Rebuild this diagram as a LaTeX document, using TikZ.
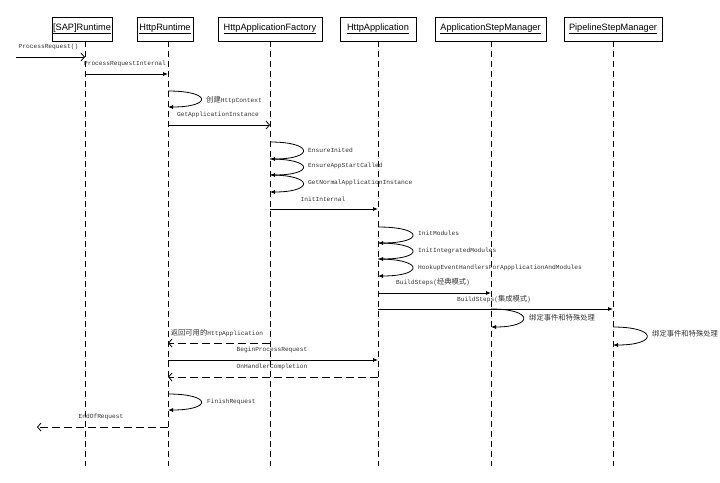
\documentclass[tikz,border=0pt]{standalone}
\usepackage{fontspec}
\setmainfont{Liberation Sans}
\newfontfamily\lblfont{Liberation Mono}
\newfontfamily\cjkfont{Noto Sans CJK SC}
\newcommand\zhtxt[1]{{\cjkfont\fontsize{7.3}{8}\selectfont #1}}
\usetikzlibrary{arrows.meta}
\begin{document}
\begin{tikzpicture}[x=1pt,y=-1pt,
 head/.style={draw, line width=0.9pt, minimum height=24pt, inner sep=0pt, font=\fontsize{9.2}{10}\selectfont},
 life/.style={dash pattern=on 6pt off 4pt, line width=0.9pt},
 msg/.style={line width=0.8pt, -{Latex[length=5pt,width=4pt]}},
 ret/.style={line width=0.8pt, dash pattern=on 8pt off 4pt, -{Straight Barb[length=3.5pt,width=8pt]}},
 async/.style={line width=0.8pt, -{Straight Barb[length=3.5pt,width=8pt]}},
 selfc/.style={line width=0.8pt, -{Latex[length=5pt,width=4pt]}},
 lbl/.style={font=\lblfont\fontsize{6.2}{7}\selectfont, text=black!80, inner sep=0pt}
]
\useasboundingbox (0,0) rectangle (720,482);

% heads
\node[head, minimum width=60pt]  (sap)  at (82,29)    {\underline{[SAP]Runtime}};
\node[head, minimum width=56pt]  (hr)   at (165,29)   {\underline{HttpRuntime}};
\node[head, minimum width=104pt] (haf)  at (270,29)   {\underline{HttpApplicationFactory}};
\node[head, minimum width=76pt]  (ha)   at (378,29)   {\underline{HttpApplication}};
\node[head, minimum width=111pt] (asm)  at (490.5,29) {\underline{ApplicationStepManager}};
\node[head, minimum width=98pt]  (psm)  at (613,29)   {\underline{PipelineStepManager}};

% lifeline ends
\coordinate (sapL) at (85,466);
\coordinate (hrL)  at (168,466);
\coordinate (hafL) at (270,466);
\coordinate (haL)  at (378,466);
\coordinate (asmL) at (491,466);
\coordinate (psmL) at (613,466);
\coordinate (inS)  at (16,57);
\coordinate (outE) at (37,427);

\draw[life] (sap.south -| sapL) -- (sapL);
\draw[life] (hr.south -| hrL) -- (hrL);
\draw[life] (haf.south -| hafL) -- (hafL);
\draw[life] (ha.south -| haL) -- (haL);
\draw[life] (asm.south -| asmL) -- (asmL);
\draw[life] (psm.south -| psmL) -- (psmL);

% messages
\draw[async] (inS) -- (sapL |- inS);
\node[lbl] (m1) at (48.5,47) {ProcessRequest()};

\draw[msg] (sapL |- 0,74) -- (hrL |- 0,74);
\node[lbl] (m2) at (125,64) {ProcessRequestInternal};

\draw[selfc] (hrL |- 0,91) .. controls +(44,0) and +(44,0) .. (hrL |- 0,107);
\node[lbl, anchor=west] (m3) at (206,100) {\zhtxt{创建}HttpContext};

\draw[async] (hrL |- 0,125) -- (hafL |- 0,125);
\node[lbl] (m4) at (218,115) {GetApplicationInstance};

\draw[selfc] (hafL |- 0,142) .. controls +(44,0) and +(44,0) .. (hafL |- 0,159);
\node[lbl, anchor=west] (m5) at (308,150) {EnsureInited};
\draw[selfc] (hafL |- 0,159) .. controls +(44,0) and +(44,0) .. (hafL |- 0,175);
\node[lbl, anchor=west] (m6) at (308,166) {EnsureAppStartCalled};
\draw[selfc] (hafL |- 0,175) .. controls +(44,0) and +(44,0) .. (hafL |- 0,192);
\node[lbl, anchor=west] (m7) at (308,183) {GetNormalApplicationInstance};

\draw[msg] (hafL |- 0,209) -- (haL |- 0,209);
\node[lbl] (m8) at (323,199) {InitInternal};

\draw[selfc] (haL |- 0,227) .. controls +(46,0) and +(46,0) .. (haL |- 0,243);
\node[lbl, anchor=west] (m9) at (418,233) {InitModules};
\draw[selfc] (haL |- 0,243) .. controls +(46,0) and +(46,0) .. (haL |- 0,259);
\node[lbl, anchor=west] (m10) at (418,251) {InitIntegratedModules};
\draw[selfc] (haL |- 0,259) .. controls +(46,0) and +(46,0) .. (haL |- 0,276);
\node[lbl, anchor=west] (m11) at (418,268) {HookupEventHandlersForAppplicationAndModules};

\draw[msg] (haL |- 0,293) -- (asmL |- 0,293);
\node[lbl] (m12) at (433,282) {BuildSteps(\zhtxt{经典模式})};

\draw[msg] (haL |- 0,309) -- (psmL |- 0,309);
\node[lbl] (m13) at (494,299) {BuildSteps(\zhtxt{集成模式})};

\draw[selfc] (asmL |- 0,309) .. controls +(43,0) and +(43,0) .. (asmL |- 0,327);
\node[lbl, anchor=west] (m14) at (529,318) {\zhtxt{绑定事件和特殊处理}};

\draw[selfc] (psmL |- 0,327) .. controls +(45,0) and +(45,0) .. (psmL |- 0,345);
\node[lbl, anchor=west] (m15) at (652,334) {\zhtxt{绑定事件和特殊处理}};

\draw[ret] (hafL |- 0,343) -- (hrL |- 0,343);
\node[lbl] (m16) at (217,333) {\zhtxt{返回可用的}HttpApplication};

\draw[msg] (hrL |- 0,360) -- (haL |- 0,360);
\node[lbl] (m17) at (272,350) {BeginProcessRequest};

\draw[ret] (haL |- 0,377) -- (hrL |- 0,377);
\node[lbl] (m18) at (272,367) {OnHandlerCompletion};

\draw[selfc] (hrL |- 0,394) .. controls +(44,0) and +(44,0) .. (hrL |- 0,410);
\node[lbl, anchor=west] (m19) at (207,402) {FinishRequest};

\draw[ret] (hrL |- outE) -- (outE);
\node[lbl] (m20) at (101,417) {EndOfRequest};
\end{tikzpicture}
\end{document}
